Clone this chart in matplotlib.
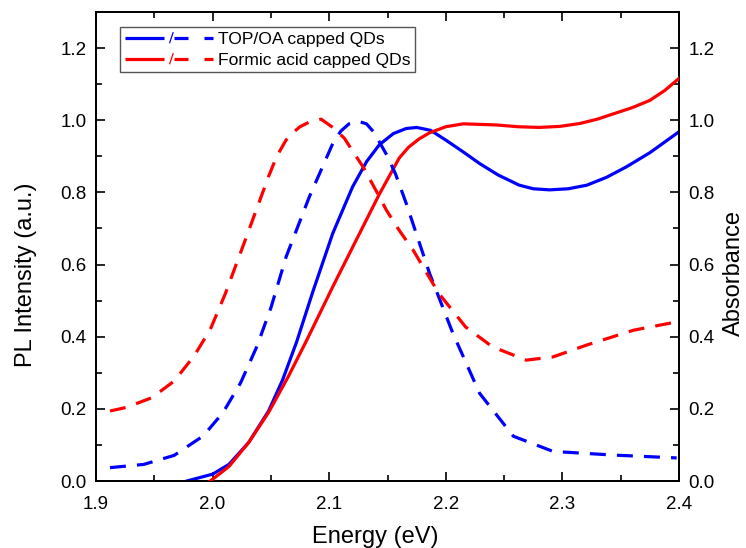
import matplotlib
matplotlib.use("Agg")
import matplotlib.pyplot as plt
from matplotlib.ticker import MultipleLocator, FormatStrFormatter
from matplotlib.legend_handler import HandlerBase
from matplotlib.lines import Line2D

plt.rcParams['font.family'] = ['Liberation Sans', 'DejaVu Sans']
plt.rcParams['lines.scale_dashes'] = False

# ---------------- data ----------------
# PL, TOP/OA capped QDs (dashed blue)
pl_top_x = [1.912, 1.941, 1.967, 1.992, 2.009, 2.024, 2.038, 2.050, 2.063, 2.083,
            2.103, 2.110, 2.117, 2.125, 2.132, 2.138, 2.143, 2.150, 2.157, 2.166,
            2.186, 2.206, 2.229, 2.258, 2.292, 2.343, 2.398]
pl_top_y = [0.037, 0.046, 0.071, 0.125, 0.190, 0.272, 0.373, 0.480, 0.621, 0.788,
            0.935, 0.970, 0.990, 0.997, 0.990, 0.968, 0.940, 0.900, 0.850, 0.770,
            0.576, 0.410, 0.243, 0.124, 0.082, 0.072, 0.064]

# PL, formic acid capped QDs (dashed red)
pl_fa_x = [1.912, 1.926, 1.948, 1.967, 1.984, 1.998, 2.011, 2.028, 2.048, 2.055,
           2.063, 2.069, 2.075, 2.083, 2.093, 2.104, 2.113, 2.121, 2.129, 2.141,
           2.149, 2.160, 2.172, 2.194, 2.217, 2.240, 2.269, 2.292, 2.321, 2.361,
           2.398]
pl_fa_y = [0.194, 0.204, 0.231, 0.277, 0.346, 0.420, 0.520, 0.668, 0.844, 0.900,
           0.945, 0.966, 0.982, 0.995, 1.003, 0.978, 0.950, 0.910, 0.871, 0.800,
           0.751, 0.695, 0.640, 0.520, 0.427, 0.372, 0.335, 0.344, 0.377, 0.418,
           0.441]

# Absorbance, TOP/OA capped QDs (solid blue)
abs_top_x = [1.978, 2.000, 2.014, 2.031, 2.048, 2.060, 2.072, 2.086, 2.103, 2.120,
             2.132, 2.143, 2.155, 2.166, 2.175, 2.187, 2.200, 2.215, 2.229, 2.245,
             2.263, 2.275, 2.289, 2.305, 2.321, 2.338, 2.355, 2.375, 2.400]
abs_top_y = [0.000, 0.019, 0.046, 0.107, 0.194, 0.280, 0.385, 0.525, 0.686, 0.815,
             0.885, 0.932, 0.963, 0.977, 0.980, 0.972, 0.945, 0.912, 0.880, 0.848,
             0.820, 0.810, 0.807, 0.810, 0.820, 0.842, 0.871, 0.910, 0.968]

# Absorbance, formic acid capped QDs (solid red)
abs_fa_x = [1.998, 2.014, 2.031, 2.048, 2.065, 2.081, 2.103, 2.126, 2.143, 2.160,
            2.168, 2.177, 2.186, 2.200, 2.215, 2.243, 2.262, 2.280, 2.298, 2.315,
            2.330, 2.344, 2.360, 2.375, 2.388, 2.400]
abs_fa_y = [0.000, 0.040, 0.107, 0.190, 0.290, 0.392, 0.538, 0.686, 0.795, 0.895,
            0.925, 0.948, 0.965, 0.982, 0.990, 0.987, 0.982, 0.980, 0.983, 0.991,
            1.003, 1.018, 1.035, 1.055, 1.083, 1.116]

labels = ["TOP/OA capped QDs", "Formic acid capped QDs"]
x_label = "Energy (eV)"
y_label_left = "PL Intensity (a.u.)"
y_label_right = "Absorbance"

BLUE = "#0000ff"
RED = "#ff0000"
LW = 2.3
DASH = (0, (11.5, 8.0))


class SolidSlashDash(HandlerBase):
    def create_artists(self, legend, orig_handle, xdescent, ydescent,
                       width, height, fontsize, trans):
        solid, dashed = orig_handle
        c = solid.get_color()
        y = height / 2.0 - ydescent
        x0 = -xdescent
        w = width
        arts = []
        arts.append(Line2D([x0, x0 + 0.45 * w], [y, y], color=c, lw=LW,
                           solid_capstyle='butt'))
        sx = x0 + 0.53 * w
        arts.append(Line2D([sx - 1.2, sx + 1.2], [y - 3.6, y + 3.6],
                           color=c, lw=0.9))
        arts.append(Line2D([x0 + 0.565 * w, x0 + 0.72 * w], [y, y], color=c,
                           lw=LW, solid_capstyle='butt'))
        arts.append(Line2D([x0 + 0.90 * w, x0 + 1.0 * w], [y, y], color=c,
                           lw=LW, solid_capstyle='butt'))
        for art in arts:
            art.set_transform(trans)
        return arts


fig = plt.figure(figsize=(7.46, 5.48), dpi=100)
L, R, B, T = 96, 679, 481, 12
AW, AH = R - L, B - T
ax = fig.add_axes([L / 746, 1 - B / 548, AW / 746, AH / 548])
ax2 = ax.twinx()

# absorbance (solid) and PL (dashed)
l_abs_top, = ax2.plot(abs_top_x, abs_top_y, color=BLUE, lw=LW, zorder=2)
l_abs_fa, = ax2.plot(abs_fa_x, abs_fa_y, color=RED, lw=LW, zorder=3)
l_pl_top, = ax2.plot(pl_top_x, pl_top_y, color=BLUE, lw=LW, linestyle=DASH,
                     zorder=4)
l_pl_fa, = ax2.plot(pl_fa_x, pl_fa_y, color=RED, lw=LW, linestyle=DASH,
                    zorder=5)

for a in (ax, ax2):
    a.set_xlim(1.9, 2.4)
    a.set_ylim(0, 1.3)
    a.yaxis.set_major_locator(MultipleLocator(0.2))
    a.yaxis.set_minor_locator(MultipleLocator(0.1))
    a.yaxis.set_major_formatter(FormatStrFormatter('%.1f'))
    for sp in a.spines.values():
        sp.set_linewidth(1.3)

ax.xaxis.set_major_locator(MultipleLocator(0.1))
ax.xaxis.set_minor_locator(MultipleLocator(0.05))
ax.xaxis.set_major_formatter(FormatStrFormatter('%.1f'))

ax.tick_params(which='both', direction='in', top=True, right=False,
               labelsize=13.5, pad=7, width=1.2)
ax.tick_params(axis='x', which='both', pad=11)
ax.tick_params(which='major', length=6.5)
ax.tick_params(which='minor', length=4)
ax2.tick_params(which='both', direction='in', right=True,
                labelsize=13.5, pad=7, width=1.2)
ax2.tick_params(which='major', length=6.5)
ax2.tick_params(which='minor', length=4)

ax.set_xlabel(x_label, fontsize=17)
ax.set_ylabel(y_label_left, fontsize=17)
ax2.set_ylabel(y_label_right, fontsize=17)
ax.xaxis.set_label_coords((375 - L) / AW, (B - 526) / AH)
ax.yaxis.set_label_coords((37 - L) / AW, (B - 275) / AH)
ax2.yaxis.set_label_coords((723 - L) / AW, (B - 273) / AH)

leg = ax2.legend([(l_abs_top, l_pl_top), (l_abs_fa, l_pl_fa)], labels,
                 handler_map={tuple: SolidSlashDash()},
                 loc='upper left',
                 bbox_to_anchor=((120 - L) / AW, (B - 27) / AH),
                 borderaxespad=0, fontsize=12.6, handlelength=5.05,
                 handletextpad=0.3, labelspacing=0.33, borderpad=0.26,
                 fancybox=False, framealpha=1, edgecolor='#555555')
leg.get_frame().set_linewidth(1.0)

fig.savefig("out.png", dpi=100)
